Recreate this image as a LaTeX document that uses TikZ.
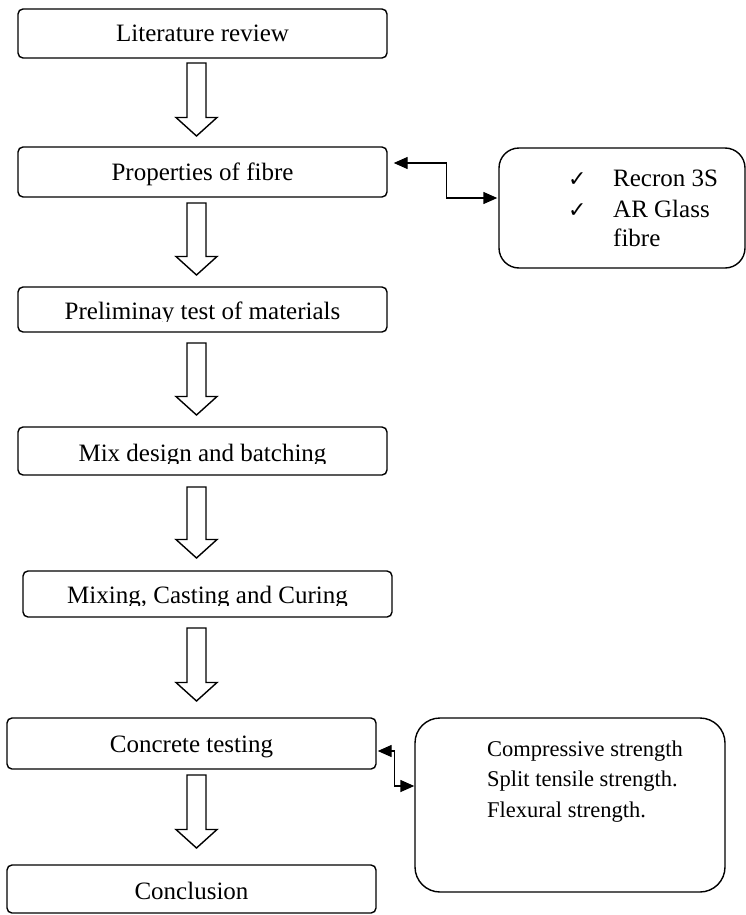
\documentclass[tikz,border=0pt]{standalone}
\usepackage{fontspec}
\setmainfont{Liberation Serif}
\newfontfamily\symfont{DejaVu Sans}
\usetikzlibrary{arrows.meta,fit}
\newcommand\flowarrow[2]{%
  \draw[blockarrow] (187,#1) -- (206,#1) -- (206,{#2-18.5}) -- (217,{#2-18.5})
    -- (196.5,#2) -- (176,{#2-18.5}) -- (187,{#2-18.5}) -- cycle;}
\begin{document}
\begin{tikzpicture}[x=1bp,y=-1bp,
  stepbox/.style={draw, line width=1.4bp, rounded corners=5bp, inner sep=0pt},
  sidebox/.style={draw, line width=1.4bp, inner sep=0pt},
  lbl/.style={inner sep=0pt, font=\fontsize{25bp}{30bp}\selectfont},
  slbl/.style={inner sep=0pt, font=\fontsize{22.5bp}{27bp}\selectfont},
  chk/.style={inner sep=0pt, font=\symfont\fontsize{22bp}{24bp}\selectfont},
  link/.style={line width=1.4bp, {Triangle[length=14bp,width=12bp]}-{Triangle[length=14bp,width=12bp]}},
  blockarrow/.style={line width=1.4bp, fill=white, line join=miter}]
\useasboundingbox (0,0) rectangle (746,915);

% main step boxes
\node[stepbox, fit={(18,9)(387,58)}] (lit) {};
\node[stepbox, fit={(18,147)(387,197)}] (prop) {};
\node[stepbox, fit={(18,287)(387,332)}] (prelim) {};
\node[stepbox, fit={(18,427)(387,475)}] (mix) {};
\node[stepbox, fit={(23,571)(392,617)}] (cast) {};
\node[stepbox, fit={(7,718)(376,769)}] (conc) {};
\node[stepbox, fit={(7,865)(376,913)}] (concl) {};

% labels
\node[lbl, anchor=base] (litT) at (202.5,41) {Literature review};
\node[lbl, anchor=base] (propT) at (202.5,180) {Properties of fibre};
\begin{scope}
  \clip (18,287) rectangle (387,321.5);
  \node[lbl, anchor=base] (prelimT) at (202.5,319.5) {Preliminay test of materials};
\end{scope}
\begin{scope}
  \clip (18,427) rectangle (387,463.3);
  \node[lbl, anchor=base] (mixT) at (202.5,461.5) {Mix design and batching};
\end{scope}
\begin{scope}
  \clip (23,571) rectangle (392,605);
  \node[lbl, anchor=base] (castT) at (207.5,603.5) {Mixing, Casting and Curing};
\end{scope}
\node[lbl, anchor=base] (concT) at (191.5,752) {Concrete testing};
\node[lbl, anchor=base] (conclT) at (191.5,899) {Conclusion};

% side boxes
\node[sidebox, rounded corners=20bp, fit={(499,148)(745,268)}] (fib) {};
\node[chk, anchor=base west] (c1) at (568,186) {✓};
\node[chk, anchor=base west] (c2) at (568,217) {✓};
\node[lbl, anchor=base west] (f1) at (613,186) {Recron 3S};
\node[lbl, anchor=base west] (f2) at (613,217) {AR Glass};
\node[lbl, anchor=base west] (f3) at (613,246) {fibre};

\node[sidebox, rounded corners=25bp, fit={(415,718)(725,892)}] (tests) {};
\node[slbl, anchor=base west] (t1) at (487,756) {Compressive strength};
\node[slbl, anchor=base west] (t2) at (487,786) {Split tensile strength.};
\node[slbl, anchor=base west] (t3) at (487,817) {Flexural strength.};

% block arrows
\flowarrow{63}{136}
\flowarrow{203}{275}
\flowarrow{343}{415}
\flowarrow{487}{558}
\flowarrow{628}{701}
\flowarrow{775}{848}

% elbow connectors
\draw[link] ([shift={(6,-9)}]prop.east) -- ++(53,0) |- ([shift={(-1,-10)}]fib.west);
\draw[link] ([shift={(1,7.5)}]conc.east) -- ++(17,0) |- ([shift={(0,-19)}]tests.west);
\end{tikzpicture}
\end{document}
